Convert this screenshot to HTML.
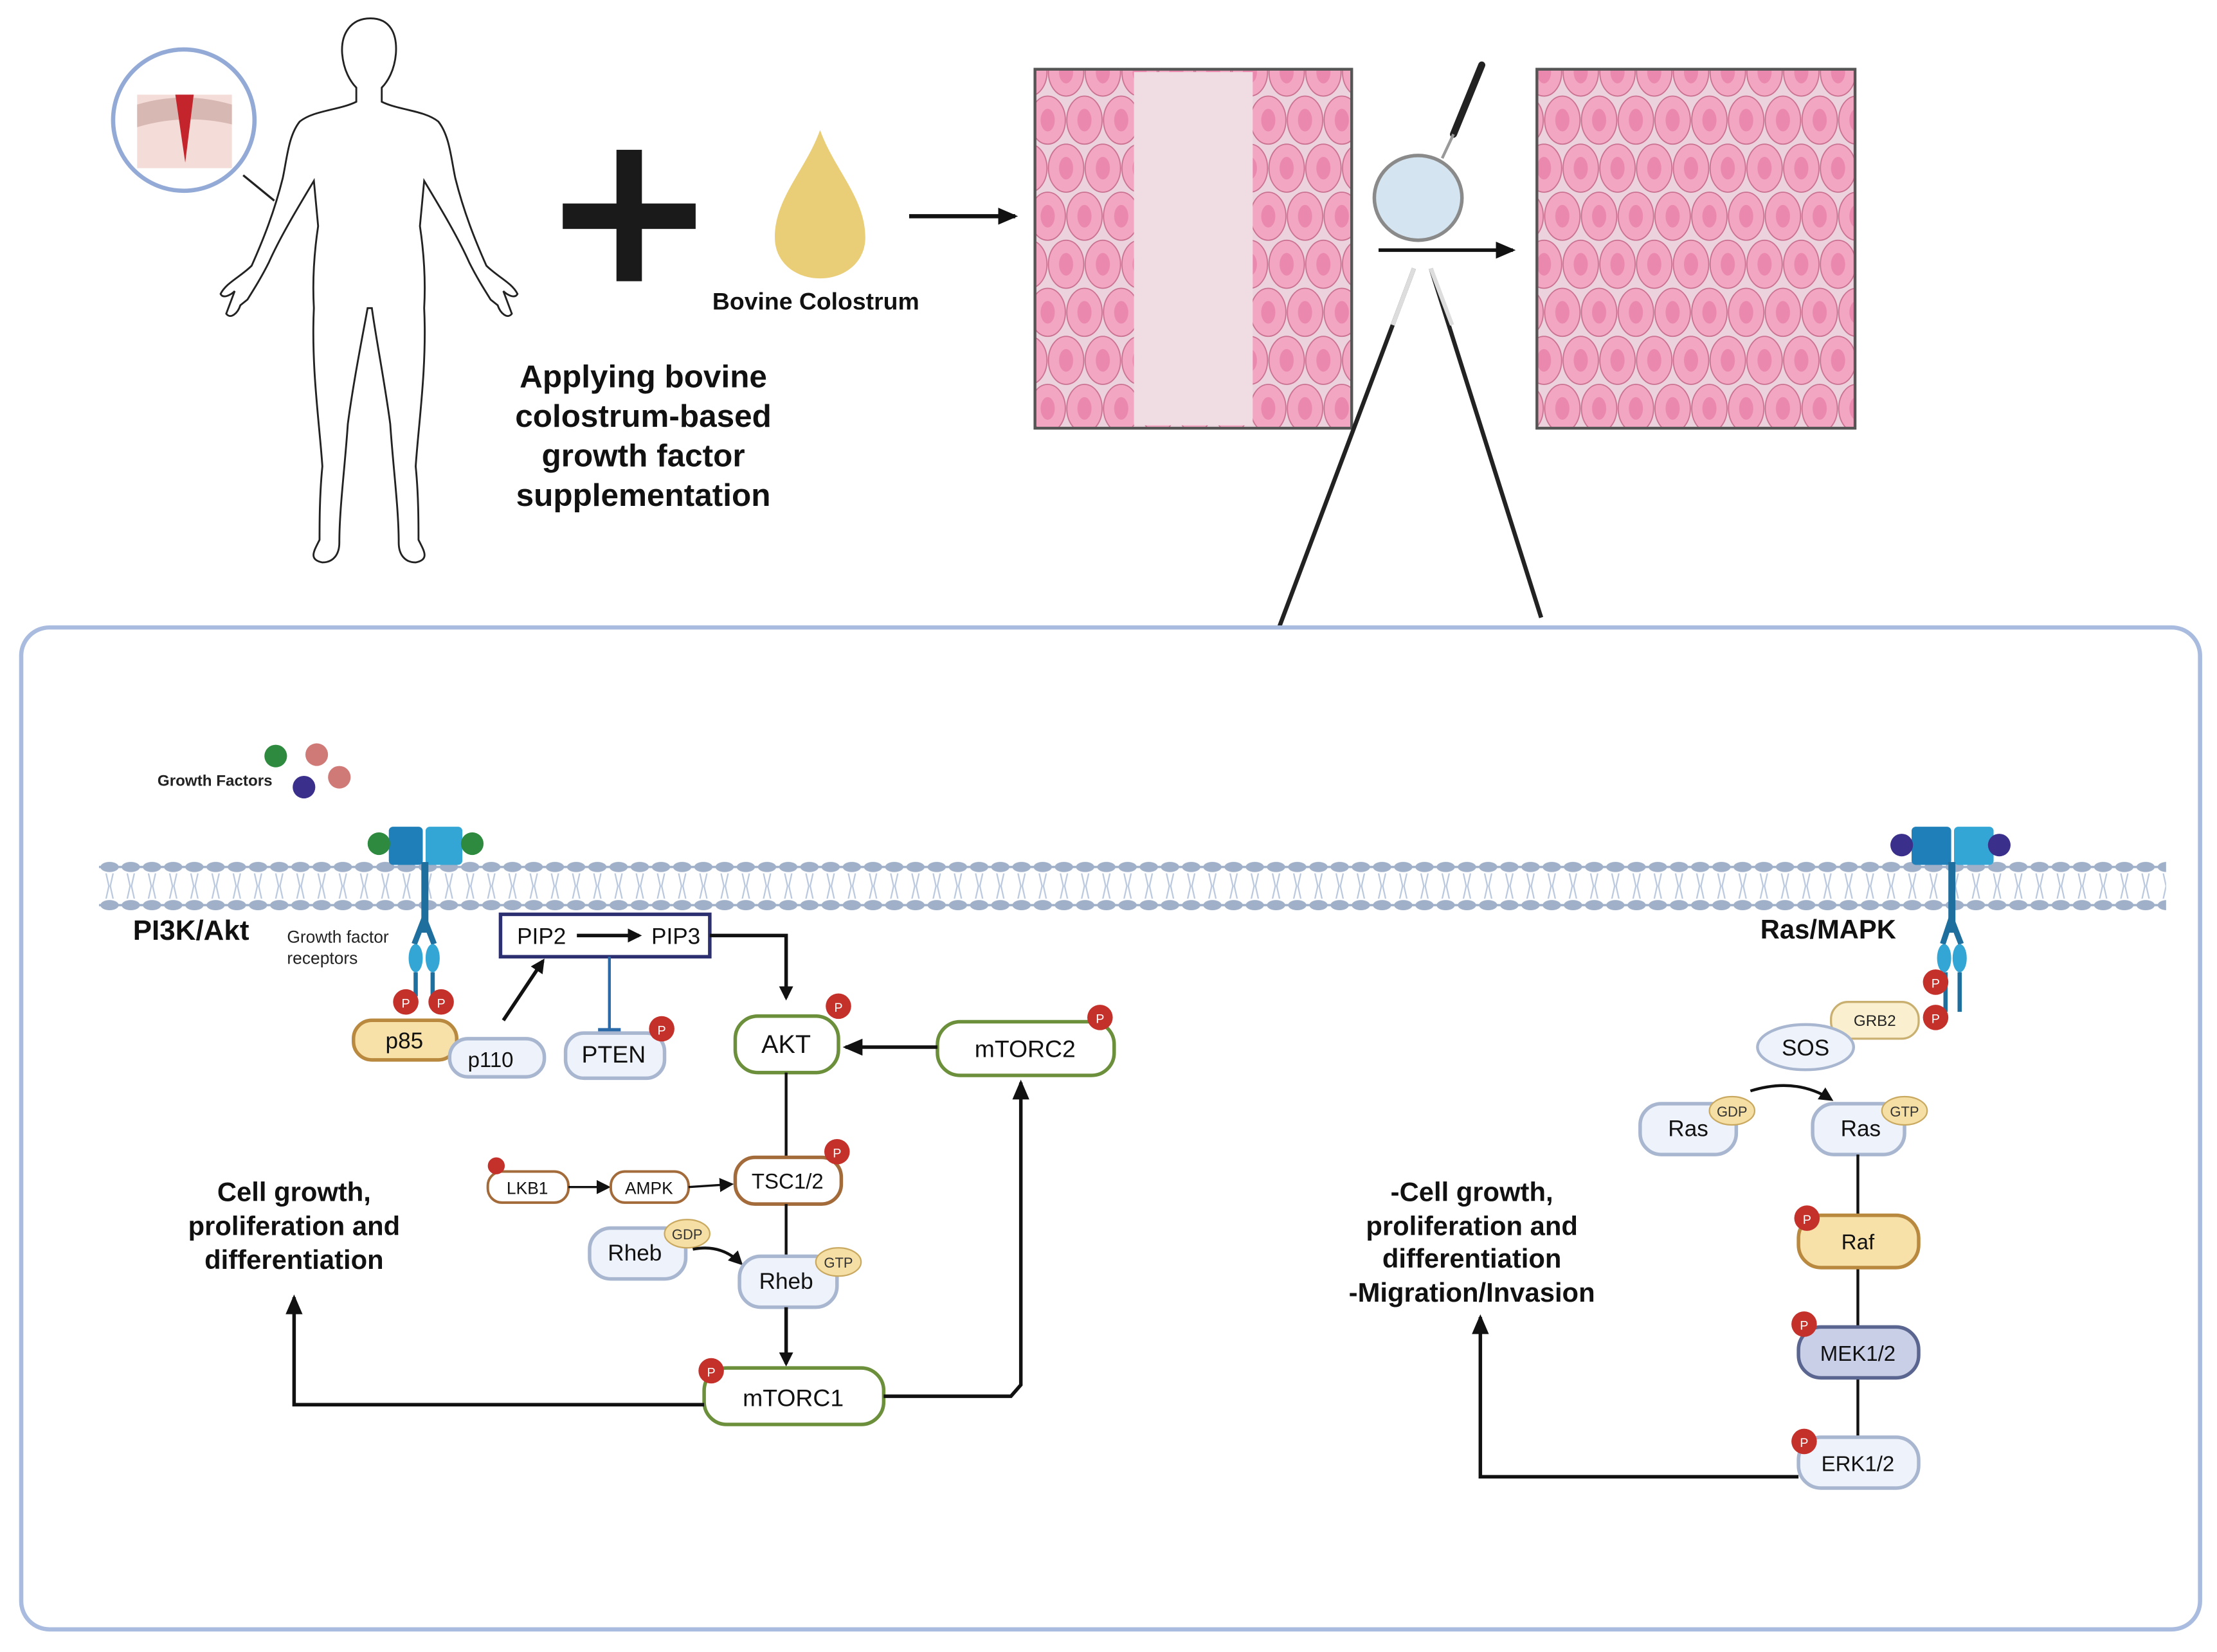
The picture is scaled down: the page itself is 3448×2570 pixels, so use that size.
<!DOCTYPE html>
<html><head><meta charset="utf-8"><style>
html,body{margin:0;padding:0;background:#fff;}
svg{display:block;}
text{font-family:"Liberation Sans",Arial,sans-serif;}
</style></head><body>
<svg width="3448" height="2570" viewBox="0 0 1568 1169" preserveAspectRatio="none" xmlns="http://www.w3.org/2000/svg">
<defs>
<pattern id="cells" x="0" y="0" width="52" height="68" patternUnits="userSpaceOnUse">
<rect width="52" height="68" fill="#ecd2dc"/>
<g stroke="#c9708f" stroke-width="0.8" fill="#f3a6c2">
<ellipse cx="13" cy="17" rx="12.5" ry="17"/><ellipse cx="39" cy="17" rx="12.5" ry="17"/>
<ellipse cx="0" cy="51" rx="12.5" ry="17"/><ellipse cx="26" cy="51" rx="12.5" ry="17"/><ellipse cx="52" cy="51" rx="12.5" ry="17"/>
<ellipse cx="13" cy="85" rx="12.5" ry="17"/><ellipse cx="39" cy="85" rx="12.5" ry="17"/>
<ellipse cx="0" cy="-17" rx="12.5" ry="17"/><ellipse cx="26" cy="-17" rx="12.5" ry="17"/><ellipse cx="52" cy="-17" rx="12.5" ry="17"/>
</g>
<g fill="#ea88ae">
<ellipse cx="13" cy="17" rx="5" ry="8"/><ellipse cx="39" cy="17" rx="5" ry="8"/>
<ellipse cx="0" cy="51" rx="5" ry="8"/><ellipse cx="26" cy="51" rx="5" ry="8"/><ellipse cx="52" cy="51" rx="5" ry="8"/>
</g>
</pattern>
<marker id="ah" markerWidth="10" markerHeight="10" refX="8" refY="5" orient="auto" markerUnits="userSpaceOnUse"><path d="M0,0 L10,5 L0,10 Z" fill="#111"/></marker>
<marker id="ahs" markerWidth="14" markerHeight="12" refX="12" refY="6" orient="auto" markerUnits="userSpaceOnUse"><path d="M0,0 L14,6 L0,12 Z" fill="#111"/></marker>
<pattern id="headsTop" x="70" y="609" width="15" height="9" patternUnits="userSpaceOnUse"><rect width="15" height="9" fill="#fff"/><ellipse cx="7.5" cy="4.5" rx="6.5" ry="3.6" fill="#9fb0c8"/><rect x="0" y="3.7" width="15" height="1.6" fill="#9fb0c8"/></pattern>
<pattern id="headsBot" x="70" y="636" width="15" height="9" patternUnits="userSpaceOnUse"><rect width="15" height="9" fill="#fff"/><ellipse cx="7.5" cy="4.5" rx="6.5" ry="3.6" fill="#9fb0c8"/><rect x="0" y="3.7" width="15" height="1.6" fill="#9fb0c8"/></pattern>
<pattern id="tails" x="70" y="618" width="15" height="18" patternUnits="userSpaceOnUse"><rect width="15" height="18" fill="#fff"/><path d="M5,0 L7,9 L5,18 M10,0 L8,9 L10,18" stroke="#b9c8de" stroke-width="1" fill="none"/></pattern>
</defs>

<!-- human -->
<path d="M262,13 C248,13 241,24 242,38 C243,50 248,58 252,62 L252,72 C240,78 222,78 212,86 C204,96 203,112 200,126 C194,150 186,170 178,188 C170,196 160,200 156,208 C158,212 164,208 166,206 L160,222 C163,226 168,222 170,216 L175,212 C180,204 185,196 190,186 C198,168 210,148 222,128 L225,160 C222,180 221,200 222,218 C220,260 226,300 228,330 C226,350 226,370 226,382 C222,390 218,396 228,398 C236,398 240,392 240,384 C240,360 244,330 246,300 C250,270 256,240 260,218 L263,218 C266,240 272,270 276,300 C278,330 282,360 282,384 C282,392 286,398 294,398 C304,396 300,390 296,382 C296,370 296,350 294,330 C296,300 302,260 300,218 C301,200 300,180 297,160 L300,128 C312,148 324,168 332,186 C337,196 342,204 347,212 L352,216 C354,222 359,226 362,222 L356,206 C358,208 364,212 366,208 C362,200 352,196 344,188 C336,170 328,150 322,126 C319,112 318,96 310,86 C300,78 282,78 270,72 L270,62 C274,58 279,50 280,38 C281,24 276,13 262,13 Z" fill="#fff" stroke="#222" stroke-width="1.3"/>
<line x1="172" y1="124" x2="194" y2="142" stroke="#222" stroke-width="1.5"/>
<circle cx="130" cy="85" r="50" fill="#fff" stroke="#93aad6" stroke-width="3"/>
<rect x="97" y="67" width="67" height="52" fill="#f4dcd8"/>
<path d="M97,74 Q130,64 164,74 L164,88 Q130,80 97,90 Z" fill="#d8b8b2"/>
<path d="M124,67 L137,67 L131,115 Z" fill="#c4242c"/>

<rect x="436" y="106" width="18" height="93" fill="#1a1a1a"/>
<rect x="398" y="144" width="94" height="18" fill="#1a1a1a"/>
<path d="M580,92 C570,120 548,140 548,168 C548,186 563,197 580,197 C597,197 612,186 612,168 C612,140 590,120 580,92 Z" fill="#e9cd77"/>
<text x="577" y="219" font-size="17" font-weight="bold" text-anchor="middle" fill="#111">Bovine Colostrum</text>
<line x1="643" y1="153" x2="718" y2="153" stroke="#111" stroke-width="3" marker-end="url(#ahs)"/>

<g font-size="22.5" font-weight="bold" text-anchor="middle" fill="#111">
<text x="455" y="274">Applying bovine</text>
<text x="455" y="302">colostrum-based</text>
<text x="455" y="330">growth factor</text>
<text x="455" y="358">supplementation</text>
</g>

<rect x="732" y="49" width="224" height="254" fill="url(#cells)"/>
<rect x="802" y="51" width="84" height="250" fill="#efdde3"/>
<rect x="732" y="49" width="224" height="254" fill="none" stroke="#555" stroke-width="2"/>
<rect x="1087" y="49" width="225" height="254" fill="url(#cells)" stroke="#555" stroke-width="2"/>
<line x1="1048" y1="46" x2="1028" y2="95" stroke="#222" stroke-width="5" stroke-linecap="round"/>
<line x1="1028" y1="95" x2="1020" y2="112" stroke="#999" stroke-width="2"/>
<ellipse cx="1003" cy="140" rx="31" ry="30" fill="#d4e4f0" stroke="#8a8a8a" stroke-width="2.5"/>
<line x1="975" y1="177" x2="1070" y2="177" stroke="#111" stroke-width="2.5" marker-end="url(#ahs)"/>
<path d="M1000,190 L905,443 M1012,190 L1090,437" stroke="#222" stroke-width="3"/>
<path d="M1000,190 L985,230 M1012,190 L1027,230" stroke="#ddd" stroke-width="3"/>

<rect x="15" y="444" width="1541" height="709" rx="20" fill="#fff" stroke="#a9bcdf" stroke-width="3"/>

<rect x="70" y="609" width="1462" height="9" fill="url(#headsTop)"/>
<rect x="70" y="618" width="1462" height="18" fill="url(#tails)"/>
<rect x="70" y="636" width="1462" height="9" fill="url(#headsBot)"/>

<text x="152" y="556" font-size="11" font-weight="bold" text-anchor="middle" fill="#222">Growth Factors</text>
<ellipse cx="195" cy="535" rx="8" ry="8" fill="#2e8a3e"/>
<ellipse cx="224" cy="534" rx="8" ry="8" fill="#d07a78"/>
<ellipse cx="240" cy="550" rx="8" ry="8" fill="#d07a78"/>
<ellipse cx="215" cy="557" rx="8" ry="8" fill="#3a2f8a"/>

<rect x="275" y="585" width="24" height="27" rx="3" fill="#1f7fb8"/>
<rect x="301" y="585" width="26" height="27" rx="3" fill="#33a6d6"/>
<circle cx="268" cy="597" r="8" fill="#2e8a3e"/>
<circle cx="334" cy="597" r="8" fill="#2e8a3e"/>
<rect x="298" y="610" width="5" height="50" fill="#1f6f9e"/>
<path d="M300,650 L293,668 M300,650 L307,668" stroke="#1f6f9e" stroke-width="4"/>
<ellipse cx="294" cy="678" rx="5" ry="10" fill="#33a6d6"/>
<ellipse cx="306" cy="678" rx="5" ry="10" fill="#33a6d6"/>
<path d="M294,688 L294,705 M306,688 L306,705" stroke="#1f6f9e" stroke-width="3"/>
<circle cx="287" cy="709" r="9" fill="#c4302a"/><text x="287" y="713" font-size="9" text-anchor="middle" fill="#fff">P</text>
<circle cx="312" cy="709" r="9" fill="#c4302a"/><text x="312" y="713" font-size="9" text-anchor="middle" fill="#fff">P</text>

<text x="94" y="665" font-size="20" font-weight="bold" fill="#111">PI3K/Akt</text>
<text x="203" y="667" font-size="12" fill="#222">Growth factor</text>
<text x="203" y="682" font-size="12" fill="#222">receptors</text>

<rect x="250" y="722" width="73" height="28" rx="13" fill="#f7e1a9" stroke="#b8893e" stroke-width="2.5"/>
<text x="286" y="742" font-size="16" text-anchor="middle" fill="#111">p85</text>
<rect x="318" y="735" width="67" height="27" rx="13" fill="#eef2fa" stroke="#a8b6d0" stroke-width="2.5"/>
<text x="347" y="755" font-size="15" text-anchor="middle" fill="#111">p110</text>
<line x1="356" y1="722" x2="384" y2="680" stroke="#111" stroke-width="2.5" marker-end="url(#ah)"/>

<rect x="354" y="647" width="148" height="30" fill="#fff" stroke="#2d3070" stroke-width="2.5"/>
<text x="383" y="668" font-size="16" text-anchor="middle" fill="#111">PIP2</text>
<text x="478" y="668" font-size="16" text-anchor="middle" fill="#111">PIP3</text>
<line x1="408" y1="662" x2="452" y2="662" stroke="#111" stroke-width="2.5" marker-end="url(#ah)"/>
<line x1="431" y1="677" x2="431" y2="729" stroke="#2a6aa8" stroke-width="2"/>
<line x1="423" y1="729" x2="439" y2="729" stroke="#2a6aa8" stroke-width="3"/>
<rect x="400" y="731" width="70" height="32" rx="13" fill="#eef2fa" stroke="#a8b6d0" stroke-width="2.5"/>
<text x="434" y="752" font-size="17" text-anchor="middle" fill="#111">PTEN</text>
<circle cx="468" cy="728" r="9" fill="#c4302a"/><text x="468" y="732" font-size="9" text-anchor="middle" fill="#fff">P</text>

<path d="M502,662 L556,662 L556,706" stroke="#111" stroke-width="2.5" fill="none" marker-end="url(#ah)"/>

<rect x="520" y="719" width="73" height="40" rx="16" fill="#fff" stroke="#6b8f3a" stroke-width="2.5"/>
<text x="556" y="745" font-size="18" text-anchor="middle" fill="#111">AKT</text>
<circle cx="593" cy="712" r="9" fill="#c4302a"/><text x="593" y="716" font-size="9" text-anchor="middle" fill="#fff">P</text>
<rect x="663" y="723" width="125" height="38" rx="16" fill="#fff" stroke="#6b8f3a" stroke-width="2.5"/>
<text x="725" y="748" font-size="17" text-anchor="middle" fill="#111">mTORC2</text>
<circle cx="778" cy="720" r="9" fill="#c4302a"/><text x="778" y="724" font-size="9" text-anchor="middle" fill="#fff">P</text>
<line x1="663" y1="741" x2="598" y2="741" stroke="#111" stroke-width="2.5" marker-end="url(#ahs)"/>

<line x1="556" y1="759" x2="556" y2="818" stroke="#111" stroke-width="2"/>
<rect x="520" y="819" width="75" height="33" rx="14" fill="#fff" stroke="#a36a3a" stroke-width="2.5"/>
<text x="557" y="841" font-size="15" text-anchor="middle" fill="#111">TSC1/2</text>
<circle cx="592" cy="815" r="9" fill="#c4302a"/><text x="592" y="819" font-size="9" text-anchor="middle" fill="#fff">P</text>
<rect x="345" y="829" width="57" height="22" rx="10" fill="#fff" stroke="#a36a3a" stroke-width="1.8"/>
<text x="373" y="845" font-size="12" text-anchor="middle" fill="#111">LKB1</text>
<circle cx="351" cy="825" r="6" fill="#c4302a"/>
<line x1="402" y1="840" x2="430" y2="840" stroke="#111" stroke-width="1.5" marker-end="url(#ah)"/>
<rect x="432" y="829" width="55" height="22" rx="10" fill="#fff" stroke="#a36a3a" stroke-width="1.8"/>
<text x="459" y="845" font-size="12" text-anchor="middle" fill="#111">AMPK</text>
<line x1="487" y1="840" x2="517" y2="838" stroke="#111" stroke-width="1.5" marker-end="url(#ah)"/>

<rect x="417" y="869" width="68" height="36" rx="15" fill="#eef2fa" stroke="#a8b6d0" stroke-width="2.5"/>
<text x="449" y="892" font-size="16" text-anchor="middle" fill="#111">Rheb</text>
<ellipse cx="486" cy="873" rx="16" ry="10" fill="#f5dfa4" stroke="#c9a860" stroke-width="1"/>
<text x="486" y="877" font-size="10" text-anchor="middle" fill="#333">GDP</text>
<path d="M490,884 Q510,880 524,894" stroke="#111" stroke-width="2" fill="none" marker-end="url(#ah)"/>
<line x1="556" y1="852" x2="556" y2="888" stroke="#111" stroke-width="2"/>
<rect x="523" y="889" width="69" height="36" rx="15" fill="#eef2fa" stroke="#a8b6d0" stroke-width="2.5"/>
<text x="556" y="912" font-size="16" text-anchor="middle" fill="#111">Rheb</text>
<ellipse cx="593" cy="893" rx="16" ry="10" fill="#f5dfa4" stroke="#c9a860" stroke-width="1"/>
<text x="593" y="897" font-size="10" text-anchor="middle" fill="#333">GTP</text>
<line x1="556" y1="925" x2="556" y2="965" stroke="#111" stroke-width="2.5" marker-end="url(#ah)"/>

<rect x="498" y="968" width="127" height="40" rx="16" fill="#fff" stroke="#6b8f3a" stroke-width="2.5"/>
<text x="561" y="995" font-size="17" text-anchor="middle" fill="#111">mTORC1</text>
<circle cx="503" cy="970" r="9" fill="#c4302a"/><text x="503" y="974" font-size="9" text-anchor="middle" fill="#fff">P</text>
<path d="M498,994 L208,994 L208,918" stroke="#111" stroke-width="2.5" fill="none" marker-end="url(#ahs)"/>
<path d="M625,988 L715,988 L722,980 L722,766" stroke="#111" stroke-width="2.5" fill="none" marker-end="url(#ahs)"/>

<g font-size="19" font-weight="bold" text-anchor="middle" fill="#111">
<text x="208" y="850">Cell growth,</text>
<text x="208" y="874">proliferation and</text>
<text x="208" y="898">differentiation</text>
</g>

<rect x="1352" y="585" width="28" height="27" rx="3" fill="#1f7fb8"/>
<rect x="1382" y="585" width="28" height="27" rx="3" fill="#33a6d6"/>
<circle cx="1345" cy="598" r="8" fill="#3a2f8a"/>
<circle cx="1414" cy="598" r="8" fill="#3a2f8a"/>
<rect x="1378" y="610" width="5" height="50" fill="#1f6f9e"/>
<path d="M1380,650 L1374,668 M1380,650 L1387,668" stroke="#1f6f9e" stroke-width="4"/>
<ellipse cx="1375" cy="678" rx="5" ry="10" fill="#33a6d6"/>
<ellipse cx="1386" cy="678" rx="5" ry="10" fill="#33a6d6"/>
<path d="M1376,688 L1376,716 M1386,688 L1386,716" stroke="#1f6f9e" stroke-width="3"/>
<text x="1245" y="664" font-size="19" font-weight="bold" fill="#111">Ras/MAPK</text>
<circle cx="1369" cy="695" r="9" fill="#c4302a"/><text x="1369" y="699" font-size="9" text-anchor="middle" fill="#fff">P</text>
<rect x="1295" y="709" width="62" height="26" rx="12" fill="#faf0cf" stroke="#c9b070" stroke-width="1.5"/>
<text x="1326" y="726" font-size="11" text-anchor="middle" fill="#222">GRB2</text>
<circle cx="1369" cy="720" r="9" fill="#c4302a"/><text x="1369" y="724" font-size="9" text-anchor="middle" fill="#fff">P</text>
<ellipse cx="1277" cy="741" rx="34" ry="16" fill="#eef2fa" stroke="#a8b6d0" stroke-width="2"/>
<text x="1277" y="747" font-size="16" text-anchor="middle" fill="#111">SOS</text>
<path d="M1238,772 Q1270,762 1295,778" stroke="#111" stroke-width="2" fill="none" marker-end="url(#ah)"/>
<rect x="1160" y="781" width="68" height="36" rx="15" fill="#eef2fa" stroke="#a8b6d0" stroke-width="2.5"/>
<text x="1194" y="804" font-size="16" text-anchor="middle" fill="#111">Ras</text>
<ellipse cx="1225" cy="786" rx="16" ry="10" fill="#f5dfa4" stroke="#c9a860"/>
<text x="1225" y="790" font-size="10" text-anchor="middle" fill="#333">GDP</text>
<rect x="1282" y="781" width="65" height="36" rx="15" fill="#eef2fa" stroke="#a8b6d0" stroke-width="2.5"/>
<text x="1316" y="804" font-size="16" text-anchor="middle" fill="#111">Ras</text>
<ellipse cx="1347" cy="786" rx="16" ry="10" fill="#f5dfa4" stroke="#c9a860"/>
<text x="1347" y="790" font-size="10" text-anchor="middle" fill="#333">GTP</text>
<line x1="1314" y1="817" x2="1314" y2="1017" stroke="#111" stroke-width="2"/>
<rect x="1272" y="860" width="85" height="37" rx="16" fill="#f7e1a9" stroke="#b8893e" stroke-width="2.5"/>
<text x="1314" y="884" font-size="15" text-anchor="middle" fill="#111">Raf</text>
<circle cx="1278" cy="862" r="9" fill="#c4302a"/><text x="1278" y="866" font-size="9" text-anchor="middle" fill="#fff">P</text>
<rect x="1272" y="939" width="85" height="36" rx="16" fill="#c9cfe6" stroke="#5a6690" stroke-width="2.5"/>
<text x="1314" y="963" font-size="15" text-anchor="middle" fill="#111">MEK1/2</text>
<circle cx="1276" cy="937" r="9" fill="#c4302a"/><text x="1276" y="941" font-size="9" text-anchor="middle" fill="#fff">P</text>
<rect x="1272" y="1017" width="85" height="36" rx="16" fill="#eef2fa" stroke="#a8b6d0" stroke-width="2.5"/>
<text x="1314" y="1041" font-size="15" text-anchor="middle" fill="#111">ERK1/2</text>
<circle cx="1276" cy="1020" r="9" fill="#c4302a"/><text x="1276" y="1024" font-size="9" text-anchor="middle" fill="#fff">P</text>
<path d="M1272,1045 L1047,1045 L1047,932" stroke="#111" stroke-width="2.5" fill="none" marker-end="url(#ahs)"/>
<g font-size="19" font-weight="bold" text-anchor="middle" fill="#111">
<text x="1041" y="850">-Cell growth,</text>
<text x="1041" y="874">proliferation and</text>
<text x="1041" y="897">differentiation</text>
<text x="1041" y="921">-Migration/Invasion</text>
</g>
</svg>
</body></html>
